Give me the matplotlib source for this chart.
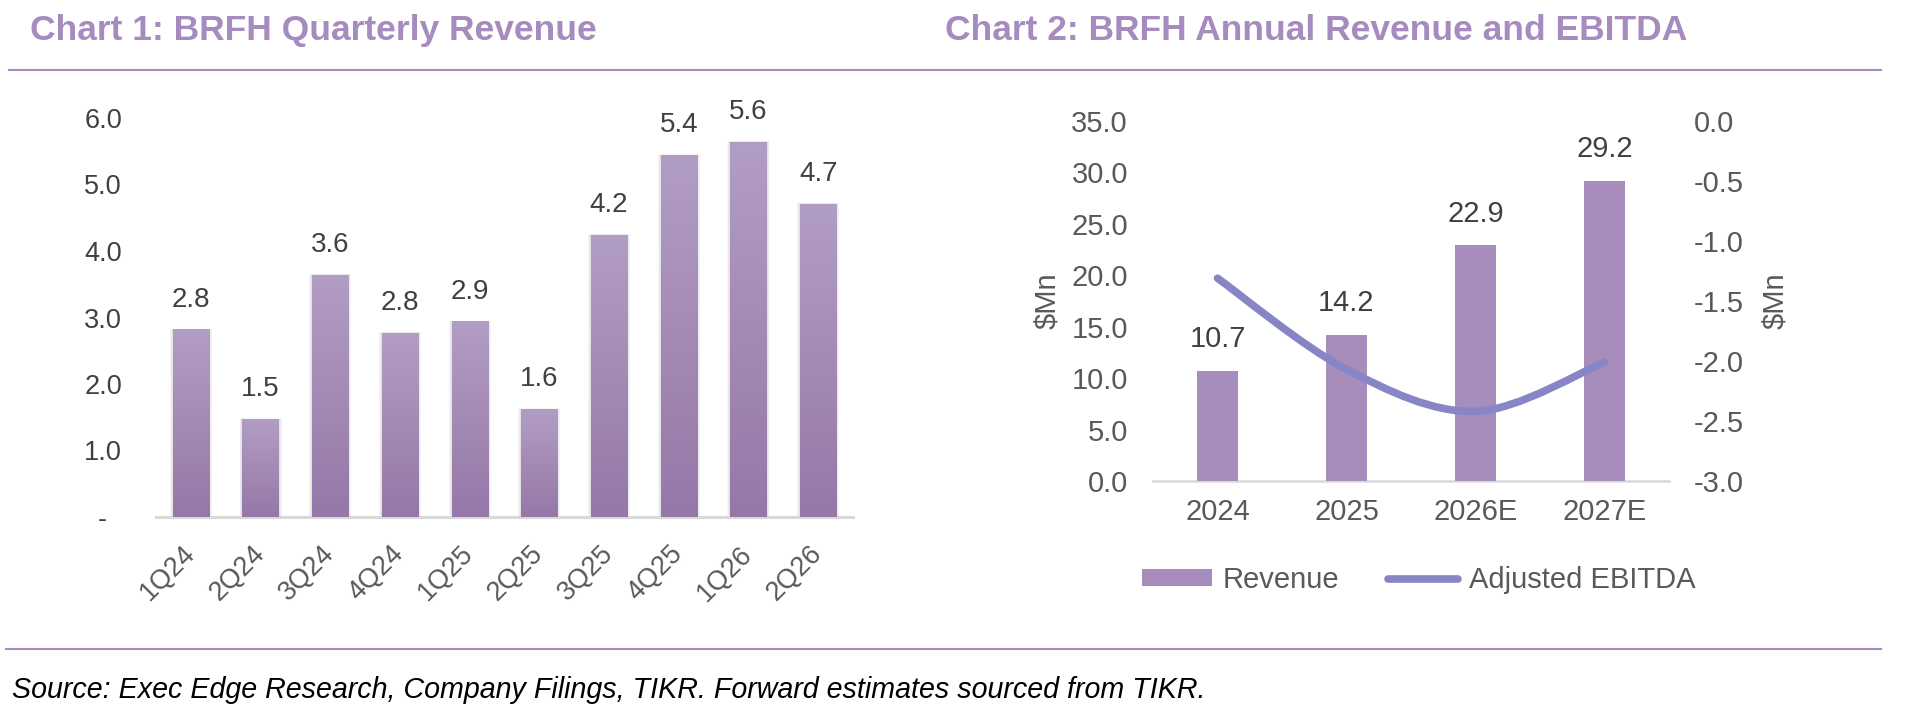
import numpy as np
import matplotlib
matplotlib.use('Agg')
import matplotlib.pyplot as plt
from matplotlib.path import Path
from matplotlib.patches import PathPatch, Rectangle, Patch
from matplotlib.lines import Line2D
from matplotlib.colors import LinearSegmentedColormap

plt.rcParams['font.family'] = ['Liberation Sans', 'DejaVu Sans']

# Chart 1: quarterly revenue ($Mn)
quarters = ['1Q24', '2Q24', '3Q24', '4Q24', '1Q25', '2Q25', '3Q25', '4Q25', '1Q26', '2Q26']
quarterly_revenue = [2.82, 1.47, 3.64, 2.77, 2.94, 1.62, 4.24, 5.44, 5.64, 4.71]
q_ticks = [0, 1, 2, 3, 4, 5, 6]
q_tick_labels = ['-  ', '1.0', '2.0', '3.0', '4.0', '5.0', '6.0']

# Chart 2: annual revenue and adjusted EBITDA ($Mn)
years = ['2024', '2025', '2026E', '2027E']
annual_revenue = [10.7, 14.2, 22.9, 29.2]
adj_ebitda = [-1.31, -2.07, -2.42, -2.01]
rev_ticks = [0, 5, 10, 15, 20, 25, 30, 35]
ebitda_ticks = [0.0, -0.5, -1.0, -1.5, -2.0, -2.5, -3.0]

W, H = 1905, 715
LAVENDER = '#A68BBE'
BAR2 = '#A78DBB'
LINE = '#8885C7'
DARK = '#404040'
GREY = '#595959'
AXIS = '#D9D9D9'


def px_box(x0, y0, x1, y1):
    # pixel box (top-left origin) -> figure fraction rect
    return [x0 / W, 1 - y1 / H, (x1 - x0) / W, (y1 - y0) / H]


def smooth_path(xs, ys):
    # Excel-style smoothed line: cubic Bezier through every point
    pts = np.column_stack([xs, ys]).astype(float)
    n = len(pts)
    verts = [pts[0]]
    codes = [Path.MOVETO]
    for i in range(n - 1):
        p0 = pts[max(i - 1, 0)]
        p1 = pts[i]
        p2 = pts[i + 1]
        p3 = pts[min(i + 2, n - 1)]
        verts += [p1 + (p2 - p0) / 6, p2 - (p3 - p1) / 6, p2]
        codes += [Path.CURVE4] * 3
    return Path(verts, codes)


fig = plt.figure(figsize=(W / 100, H / 100), dpi=100)

# titles, rules and source note
fig.text(30 / W, 1 - 40 / H, 'Chart 1: BRFH Quarterly Revenue', fontsize=25.5,
         fontweight='bold', color=LAVENDER, va='baseline')
fig.text(945 / W, 1 - 40 / H, 'Chart 2: BRFH Annual Revenue and EBITDA', fontsize=25.5,
         fontweight='bold', color=LAVENDER, va='baseline')
fig.add_artist(Line2D([9 / W, 1881 / W], [1 - 70 / H] * 2, color=LAVENDER, lw=1.5))
fig.add_artist(Line2D([6 / W, 1881 / W], [1 - 649 / H] * 2, color=LAVENDER, lw=1.5))
fig.text(12 / W, 1 - 698 / H,
         'Source: Exec Edge Research, Company Filings, TIKR. Forward estimates sourced from TIKR.',
         fontsize=20.6, style='italic', color='black', va='baseline')

# ---- Chart 1 ----
ax1 = fig.add_axes(px_box(156, 118, 853, 517))
x1 = np.arange(len(quarters))
cmap = LinearSegmentedColormap.from_list('barfade', ['#9578A8', '#B29DC4'])
grad = np.linspace(0, 1, 256).reshape(-1, 1)
bars = ax1.bar(x1, quarterly_revenue, width=0.52, color='none', edgecolor='none', zorder=3)
for b in bars:
    x0, w, h = b.get_x(), b.get_width(), b.get_height()
    # soft shadow around each bar
    for k in range(1, 4):
        d = 0.014 * k
        ax1.add_patch(Rectangle((x0 - d, 0), w + 2 * d, h + d * 0.3, facecolor='#595959',
                                edgecolor='none', alpha=0.06, zorder=2))
    im = ax1.imshow(grad, extent=[x0, x0 + w, 0, h], origin='lower', aspect='auto',
                    cmap=cmap, zorder=3)
    im.set_clip_path(b)
for i, v in enumerate(quarterly_revenue):
    ax1.annotate(f'{v:.1f}', (i, v), xytext=(0, 21.5), textcoords='offset points',
                 ha='center', va='center', fontsize=20, color=DARK, annotation_clip=False)
ax1.set_xlim(-0.5, len(quarters) - 0.5)
ax1.set_ylim(0, 6)
ax1.set_yticks(q_ticks)
ax1.set_yticklabels(q_tick_labels, fontsize=19.5, color=DARK)
ax1.set_xticks(x1)
ax1.set_xticklabels(quarters, rotation=45, ha='right', va='center', rotation_mode='anchor',
                    fontsize=19.5, color=GREY)
ax1.tick_params(axis='y', length=0, pad=24.5)
ax1.tick_params(axis='x', length=0, pad=23.8)
for s in ['top', 'left', 'right']:
    ax1.spines[s].set_visible(False)
ax1.spines['bottom'].set_color(AXIS)
ax1.spines['bottom'].set_linewidth(2.2)
ax1.patch.set_visible(False)

# ---- Chart 2 ----
ax2 = fig.add_axes(px_box(1153, 121, 1669, 481))
x2 = np.arange(len(years))
ax2.bar(x2, annual_revenue, width=0.32, color=BAR2, zorder=3)
for i, v in enumerate(annual_revenue):
    ax2.annotate(f'{v:.1f}', (i, v), xytext=(0, 23), textcoords='offset points',
                 ha='center', va='center', fontsize=21, color=DARK, annotation_clip=False)
ax2.set_xlim(-0.5, len(years) - 0.5)
ax2.set_ylim(0, 35)
ax2.set_yticks(rev_ticks)
ax2.set_yticklabels([f'{t:.1f}' for t in rev_ticks], fontsize=21, color=GREY)
ax2.set_xticks(x2)
ax2.set_xticklabels(years, fontsize=21, color=GREY)
ax2.tick_params(axis='y', length=0, pad=18)
ax2.tick_params(axis='x', length=0, pad=12.6)
for s in ['top', 'left', 'right']:
    ax2.spines[s].set_visible(False)
ax2.spines['bottom'].set_color(AXIS)
ax2.spines['bottom'].set_linewidth(1.8)
ax2.text(-0.2054, 0.5, '$Mn', transform=ax2.transAxes, rotation=90, ha='center',
         va='center', fontsize=21, color=GREY)

ax3 = ax2.twinx()
ax3.set_ylim(-3, 0)
ax3.set_yticks(ebitda_ticks)
ax3.set_yticklabels([f'{t:.1f}' for t in ebitda_ticks], fontsize=21, color=GREY)
ax3.tick_params(axis='y', length=0, pad=18)
for s in ax3.spines.values():
    s.set_visible(False)
ax3.add_patch(PathPatch(smooth_path(x2, adj_ebitda), facecolor='none', edgecolor=LINE,
                        lw=5.5, capstyle='round', joinstyle='round', zorder=4))
ax3.text(1.205, 0.5, '$Mn', transform=ax2.transAxes, rotation=90, ha='center',
         va='center', fontsize=21, color=GREY)

handles = [Patch(facecolor=BAR2, edgecolor='none'),
           Line2D([], [], color=LINE, lw=5.5, solid_capstyle='round')]
fig.legend(handles, ['Revenue', 'Adjusted EBITDA'], ncol=2, loc='center left',
           bbox_to_anchor=(1142 / W, 1 - 580 / H), frameon=False, fontsize=21,
           labelcolor=GREY, handlelength=2.4, handleheight=0.5, handletextpad=0.35,
           columnspacing=1.7, borderpad=0, borderaxespad=0)

fig.savefig('out.png', dpi=100)
